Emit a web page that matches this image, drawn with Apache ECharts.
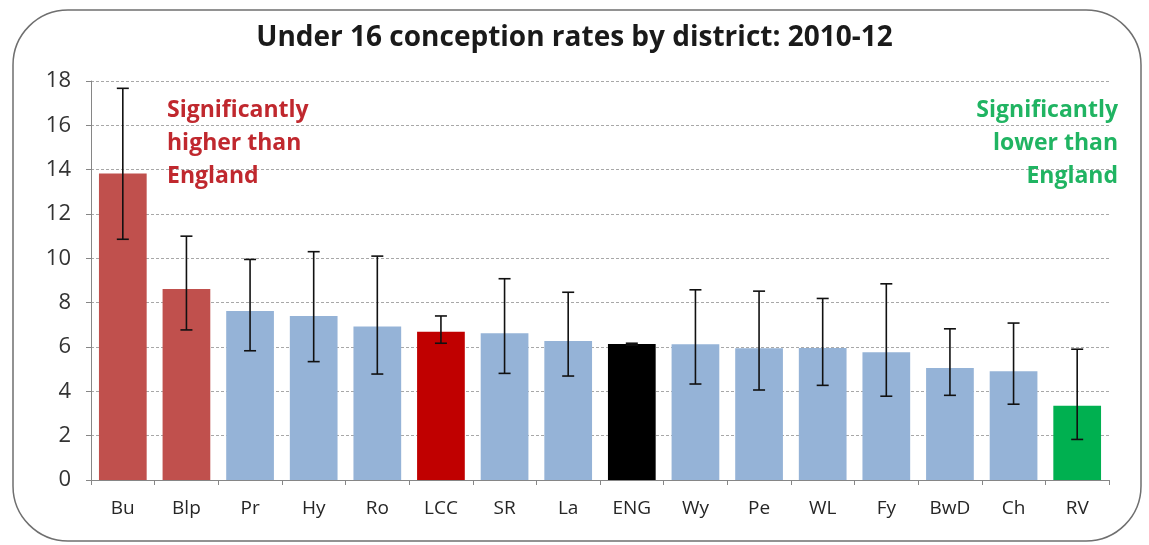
<!DOCTYPE html>
<html>
<head>
<meta charset="utf-8">
<script src="https://cdn.jsdelivr.net/npm/echarts@6/dist/echarts.min.js"></script>
<style>html,body{margin:0;padding:0;background:#fff;}#c{width:1149px;height:545px;}</style>
</head>
<body>
<div id="c"></div>
<script>
const categories = ['Bu','Blp','Pr','Hy','Ro','LCC','SR','La','ENG','Wy','Pe','WL','Fy','BwD','Ch','RV'];
const rates = [13.83, 8.62, 7.62, 7.40, 6.92, 6.69, 6.62, 6.27, 6.13, 6.12, 5.94, 5.95, 5.76, 5.05, 4.91, 3.35];
const lowerCI = [10.86, 6.77, 5.83, 5.34, 4.78, 6.17, 4.81, 4.69, 6.09, 4.33, 4.06, 4.27, 3.78, 3.82, 3.42, 1.83];
const upperCI = [17.67, 11.00, 9.95, 10.30, 10.10, 7.40, 9.08, 8.47, 6.17, 8.58, 8.52, 8.19, 8.85, 6.82, 7.08, 5.90];
const barColors = ['#C0504D','#C0504D','#95B3D7','#95B3D7','#95B3D7','#C00000','#95B3D7','#95B3D7','#000000','#95B3D7','#95B3D7','#95B3D7','#95B3D7','#95B3D7','#95B3D7','#00B050'];
const yTicks = [0, 2, 4, 6, 8, 10, 12, 14, 16, 18];

const chart = echarts.init(document.getElementById('c'));
const font = '"Open Sans", Lato, sans-serif';
chart.setOption({
  animation: false,
  backgroundColor: '#fff',
  title: {
    text: 'Under 16 conception rates by district: 2010-12',
    left: 'center', top: 19,
    textStyle: { fontFamily: font, fontWeight: 'bold', fontSize: 28, color: '#1a1a1a' }
  },
  grid: { left: 91, right: 40, top: 81, bottom: 65 },
  xAxis: {
    type: 'category',
    data: categories,
    axisLine: { lineStyle: { color: '#868686', width: 1 } },
    axisTick: { show: true, length: 5, lineStyle: { color: '#868686' } },
    axisLabel: { fontFamily: font, fontSize: 19, color: '#262626', margin: 19 }
  },
  yAxis: {
    type: 'value',
    min: yTicks[0], max: yTicks[yTicks.length - 1], interval: 2,
    axisLine: { show: true, lineStyle: { color: '#868686' } },
    axisTick: { show: true, length: 5, lineStyle: { color: '#868686' } },
    axisLabel: { fontFamily: font, fontSize: 22, color: '#333333', margin: 20 },
    splitLine: { lineStyle: { color: '#a8a8a8', type: [3, 2], width: 1 } }
  },
  series: [
    {
      type: 'bar',
      data: rates.map((v, i) => ({ value: v, itemStyle: { color: barColors[i] } })),
      barCategoryGap: '25%'
    },
    {
      type: 'custom',
      data: categories.map((c, i) => [i, lowerCI[i], upperCI[i]]),
      renderItem: function (params, api) {
        const x = api.value(0);
        const lo = api.coord([x, api.value(1)]);
        const hi = api.coord([x, api.value(2)]);
        const cap = 6;
        const st = { stroke: '#111', lineWidth: 1.6 };
        return {
          type: 'group',
          children: [
            { type: 'line', shape: { x1: lo[0], y1: lo[1], x2: hi[0], y2: hi[1] }, style: st },
            { type: 'line', shape: { x1: hi[0] - cap, y1: hi[1], x2: hi[0] + cap, y2: hi[1] }, style: st },
            { type: 'line', shape: { x1: lo[0] - cap, y1: lo[1], x2: lo[0] + cap, y2: lo[1] }, style: st }
          ]
        };
      },
      z: 5
    }
  ],
  graphic: [
    {
      type: 'rect', silent: true, z: -1,
      shape: { x: 13, y: 10, width: 1128, height: 531, r: 55 },
      style: { fill: 'none', stroke: '#6f6f6f', lineWidth: 1.5 }
    },
    {
      type: 'text', x: 167, y: 94, z: 10,
      style: { text: 'Significantly\nhigher than\nEngland', fill: '#C0282E', font: 'bold 23px "Open Sans", sans-serif', lineHeight: 33, align: 'left', verticalAlign: 'top' }
    },
    {
      type: 'text', x: 1118, y: 94, z: 10,
      style: { text: 'Significantly\nlower than\nEngland', fill: '#20B462', font: 'bold 23px "Open Sans", sans-serif', lineHeight: 33, align: 'right', verticalAlign: 'top' }
    }
  ]
});
</script>
</body>
</html>
